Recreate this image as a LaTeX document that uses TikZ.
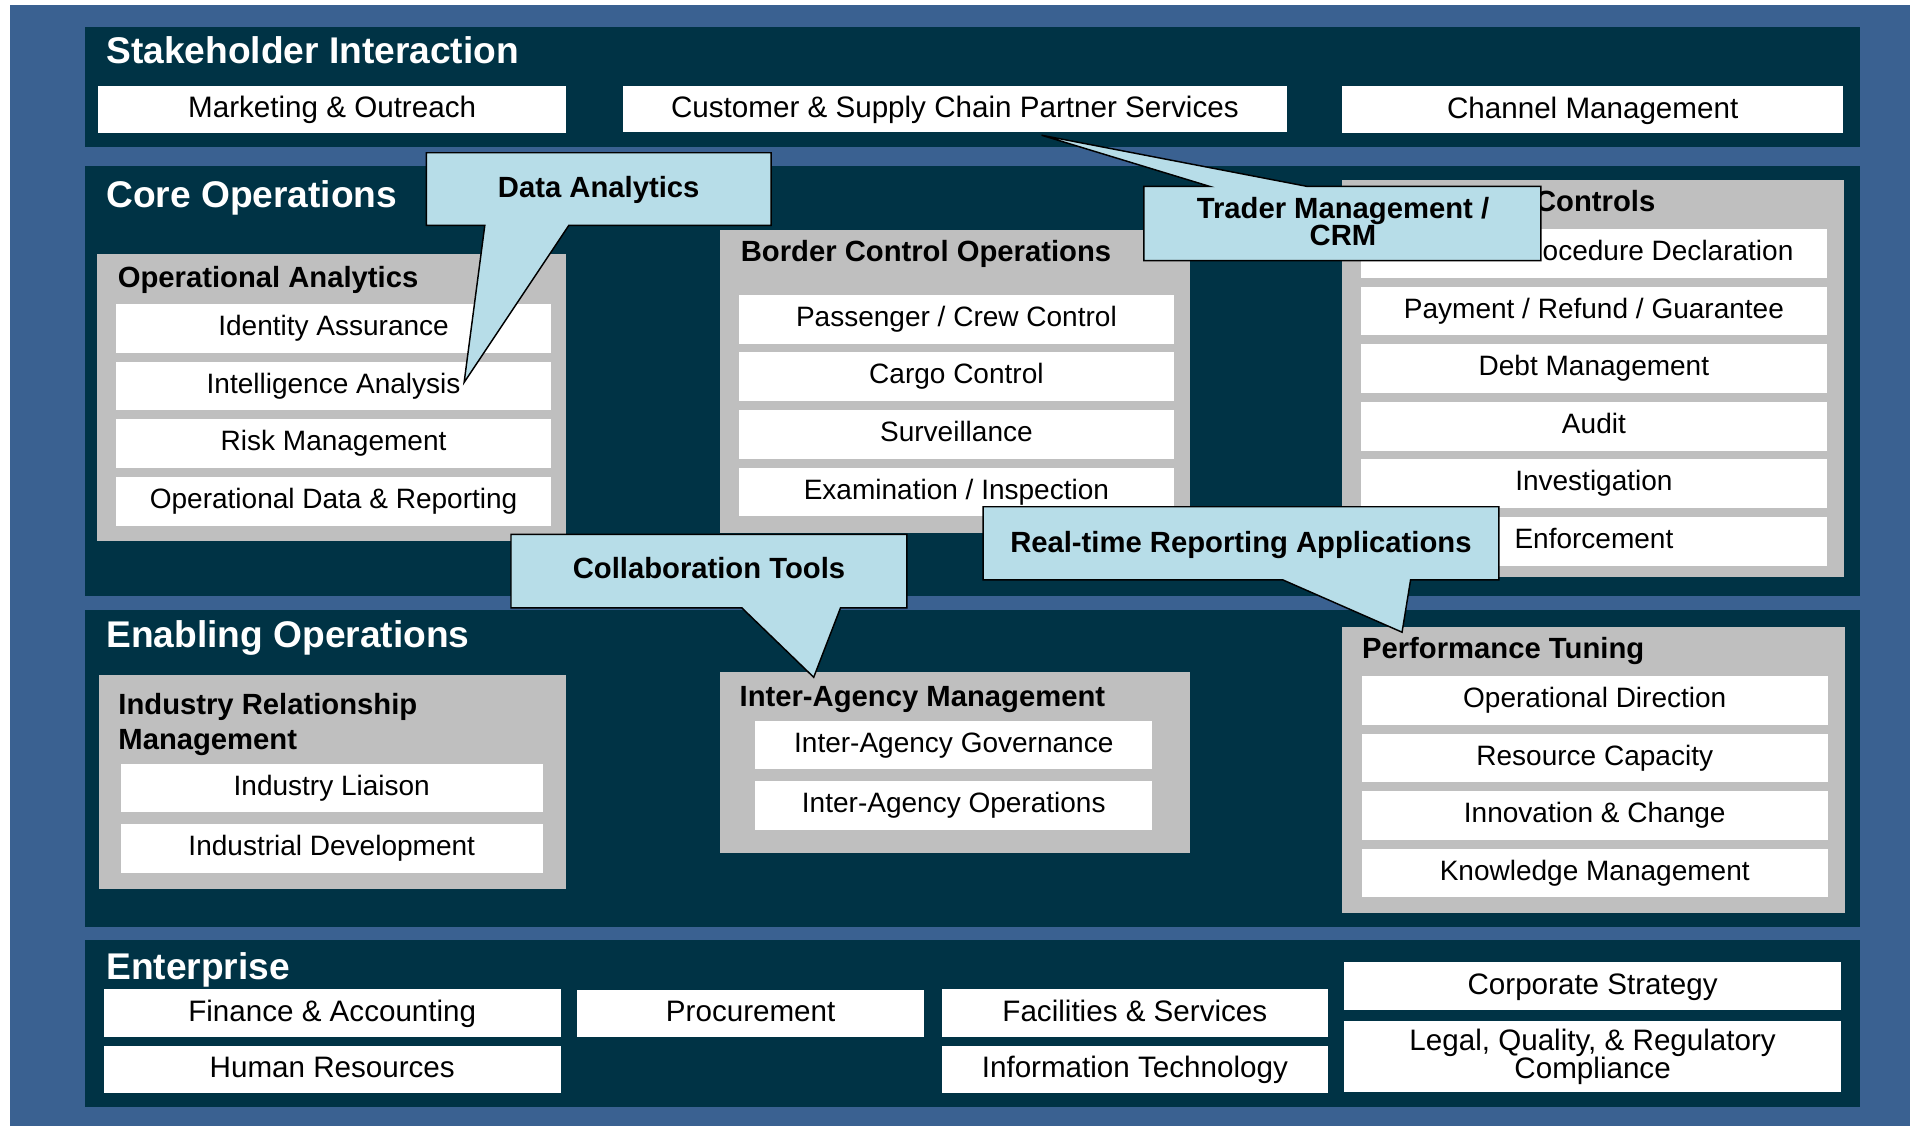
\documentclass[tikz,border=0pt]{standalone}
\usepackage{fontspec}
\setmainfont{Liberation Sans}
\definecolor{bgblue}{HTML}{3A6191}
\definecolor{bandc}{HTML}{003345}
\definecolor{greyb}{HTML}{BFBFBF}
\definecolor{callf}{HTML}{B7DDE8}
\newcommand{\fbody}{\fontsize{23}{22.7}\selectfont}
\newcommand{\fbodyL}{\fontsize{24.3}{22.7}\selectfont}
\newcommand{\fsub}{\fontsize{24}{22.6}\selectfont\bfseries}
\newcommand{\fhead}{\fontsize{30.5}{32}\selectfont\bfseries}
% \rbox{style}{name}{x1}{y1}{x2}{y2}{text}
\newcommand{\rbox}[7]{\node[#1, minimum width={(#5)-(#3)}, minimum height={(#6)-(#4)}] (#2) at ({((#3)+(#5))/2},{((#4)+(#6))/2}) {#7};}
\begin{document}
\begin{tikzpicture}[x=1pt,y=-1pt,
  band/.style={fill=bandc, draw=none, inner sep=0pt, outer sep=0pt},
  greybox/.style={fill=greyb, draw=none, inner sep=0pt, outer sep=0pt},
  wbox/.style={fill=white, draw=none, inner sep=0pt, outer sep=0pt, font=\fbody, align=center, text height=16.5pt, text depth=4.8pt},
  wboxL/.style={wbox, font=\fbodyL, text height=19pt, text depth=5.1pt},
  wboxM/.style={fill=white, draw=none, inner sep=0pt, outer sep=0pt, font=\fbodyL, align=center},
  head/.style={text=white, font=\fhead, anchor=base west, inner sep=0pt},
  subhead/.style={text=black, font=\fsub, anchor=base west, inner sep=0pt},
  callout/.style={fill=callf, draw=black, line width=1.2pt, line join=miter},
  calltext/.style={text=black, font=\fsub, inner sep=0pt, align=center}
]
\useasboundingbox (0,0) rectangle (1568,924);
\fill[white] (0,0) rectangle (1568,924);
\fill[bgblue] (8,4) rectangle (1568,924);

% ---------------- bands ----------------
\rbox{band}{bst}{70}{22}{1527}{121}{}
\rbox{band}{bco}{70}{136}{1527}{489}{}
\rbox{band}{ben}{70}{501}{1527}{761}{}
\rbox{band}{bep}{70}{772}{1527}{909}{}

\node[head] (hst) at (87,52.5) {Stakeholder Interaction};
\node[head] (hco) at (87,170.5) {Core Operations};
\node[head] (hen) at (87,531.5) {Enabling Operations};
\node[head] (hep) at (87,804) {Enterprise};

% ---------------- stakeholder interaction ----------------
\rbox{wboxL}{mo}{80.6}{70.6}{464.7}{109}{Marketing \& Outreach}
\rbox{wboxL}{cs}{511.5}{71}{1056.3}{108}{Customer \& Supply Chain Partner Services}
\rbox{wboxL}{cm}{1102}{71}{1513}{109}{Channel Management}

% ---------------- core operations ----------------
\rbox{greybox}{goa}{79.5}{208.5}{465}{444.5}{}
\node[subhead] (toa) at (96.5,236) {Operational Analytics};
\rbox{wbox}{oa1}{95.3}{249.6}{452.4}{289.6}{Identity Assurance}
\rbox{wbox}{oa2}{95.3}{296.9}{452.4}{336.9}{Intelligence Analysis}
\rbox{wbox}{oa3}{95.3}{344.2}{452.4}{384.2}{Risk Management}
\rbox{wbox}{oa4}{95.3}{391.5}{452.4}{431.5}{Operational Data \& Reporting}

\rbox{greybox}{gbc}{591}{188.8}{977}{437.6}{}
\node[subhead] (tbc) at (608,214.3) {Border Control Operations};
\rbox{wbox}{bc1}{606.5}{242}{963.8}{282}{Passenger / Crew Control}
\rbox{wbox}{bc2}{606.5}{289.3}{963.8}{329.3}{Cargo Control}
\rbox{wbox}{bc3}{606.5}{336.6}{963.8}{376.6}{Surveillance}
\rbox{wbox}{bc4}{606.5}{383.9}{963.8}{423.9}{Examination / Inspection}

\rbox{greybox}{gct}{1101.5}{147.8}{1513.7}{474}{}
\node[subhead] (tct) at (1260,174) {Controls};
\rbox{wbox}{ct1}{1117}{188}{1500}{228}{}
\node[font=\fbody, inner sep=0pt, anchor=east, text height=16.5pt, text depth=4.8pt] (ct1t) at (1472.5,208) {ocedure Declaration};
\rbox{wbox}{ct2}{1117}{235.3}{1500}{275.3}{Payment / Refund / Guarantee}
\rbox{wbox}{ct3}{1117}{282.6}{1500}{322.6}{Debt Management}
\rbox{wbox}{ct4}{1117}{329.9}{1500}{369.9}{Audit}
\rbox{wbox}{ct5}{1117}{377.2}{1500}{417.2}{Investigation}
\rbox{wbox}{ct6}{1117}{424.5}{1500}{464.5}{Enforcement}

% ---------------- enabling operations ----------------
\rbox{greybox}{gir}{81.4}{554.4}{464.7}{729.6}{}
\node[subhead] (tir1) at (97,586.5) {Industry Relationship};
\node[subhead] (tir2) at (97,615.5) {Management};
\rbox{wbox}{ir1}{99}{627}{445.7}{667}{Industry Liaison}
\rbox{wbox}{ir2}{99}{676.5}{445.7}{716.4}{Industrial Development}

\rbox{greybox}{gia}{591}{552}{977}{700}{}
\node[subhead] (tia) at (607,579.6) {Inter-Agency Management};
\rbox{wbox}{ia1}{620}{592}{946}{631.5}{Inter-Agency Governance}
\rbox{wbox}{ia2}{620}{641}{946}{681}{Inter-Agency Operations}

\rbox{greybox}{gpt}{1101.8}{515}{1514.4}{749.6}{}
\node[subhead] (tpt) at (1118,540.6) {Performance Tuning};
\rbox{wbox}{pt1}{1118}{555}{1500.4}{595}{Operational Direction}
\rbox{wbox}{pt2}{1118}{602.3}{1500.4}{642.3}{Resource Capacity}
\rbox{wbox}{pt3}{1118}{649.6}{1500.4}{689.6}{Innovation \& Change}
\rbox{wbox}{pt4}{1118}{696.9}{1500.4}{736.6}{Knowledge Management}

% ---------------- enterprise ----------------
\rbox{wboxL}{fa}{85}{812}{460.5}{851}{Finance \& Accounting}
\rbox{wboxL}{hr}{85}{858.7}{460.5}{897}{Human Resources}
\rbox{wboxL}{pr}{474}{813}{758.5}{851}{Procurement}
\rbox{wboxL}{fs}{773}{812}{1090.3}{851}{Facilities \& Services}
\rbox{wboxL}{it}{773}{858.7}{1090.3}{897}{Information Technology}
\rbox{wboxL}{cps}{1103.4}{790}{1511.5}{829}{Corporate Strategy}
\rbox{wboxM}{lq}{1103.4}{838.2}{1511.5}{896.8}{Legal, Quality, \& Regulatory\\Compliance}

% ---------------- callouts ----------------
\coordinate (daTip) at (381,314);
\draw[callout] (350,125.4) -- (633,125.4) -- (633,185) -- (467,185) -- (daTip) -- (398,185) -- (350,185) -- cycle;
\node[calltext, anchor=base] (da) at (491.5,162) {Data Analytics};

\coordinate (tmTip) at (855,111);
\draw[callout] (939,153) -- (993,153) -- (tmTip) -- (1073,153) -- (1265,153) -- (1265,214) -- (939,214) -- cycle;
\node[calltext] (tm) at (1102.5,182) {Trader Management /\\CRM};

\coordinate (ctTip) at (668,556);
\draw[callout] (419.5,438.6) -- (744.5,438.6) -- (744.5,499) -- (690,499) -- (ctTip) -- (609,499) -- (419.5,499) -- cycle;
\node[calltext, anchor=base] (cl) at (582,475) {Collaboration Tools};

\coordinate (rtTip) at (1151,519);
\draw[callout] (807,416) -- (1230.5,416) -- (1230.5,476) -- (1158,476) -- (rtTip) -- (1053,476) -- (807,476) -- cycle;
\node[calltext, anchor=base] (rt) at (1018.7,453.5) {Real-time Reporting Applications};

\end{tikzpicture}
\end{document}
